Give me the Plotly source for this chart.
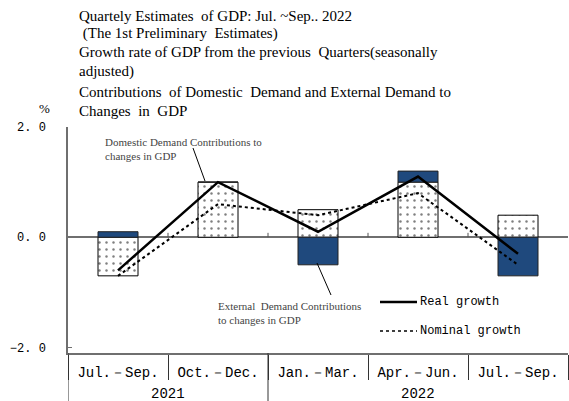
import plotly.graph_objects as go

# ---- data ----
years = ["2021", "2021", "2022", "2022", "2022"]
quarters = ["Jul.－Sep.", "Oct.－Dec.", "Jan.－Mar.", "Apr.－Jun.", "Jul.－Sep."]
domestic = [-0.7, 1.0, 0.5, 1.0, 0.4]
external = [0.1, 0.0, -0.5, 0.2, -0.7]
real_growth = [-0.6, 1.0, 0.1, 1.1, -0.3]
nominal_growth = [-0.7, 0.6, 0.4, 0.8, -0.5]
year_labels = ["2021", "2022"]
y_tickvals = [-2, 0, 2]
y_ticktext = ["−2. 0", "0. 0", "2. 0"]
title_lines = [
    "Quartely Estimates  of GDP: Jul. ~Sep.. 2022",
    " (The 1st Preliminary  Estimates)",
    "Growth rate of GDP from the previous  Quarters(seasonally",
    "adjusted)",
    "Contributions  of Domestic  Demand and External Demand to",
    "Changes  in  GDP",
]

# ---- layout geometry (pixels) ----
W, H = 569, 401
L, R, T, B = 68, 1, 127, 48
YMIN, YMAX = -2.1, 2.0


def px_x(px):
    return (px - L) / (W - L - R)


def px_y(py):
    return (H - B - py) / (H - T - B)


keys = [f"{y} {q}" for y, q in zip(years, quarters)]
n = len(keys)
# year group centres / boundaries in category-index units
year_pos = []
year_bounds = [-0.5]
for yl in year_labels:
    idx = [i for i, y in enumerate(years) if y == yl]
    year_pos.append((idx[0] + idx[-1]) / 2)
    year_bounds.append(idx[-1] + 0.5)
year_bounds = year_bounds[:-1]

fig = go.Figure()
fig.add_trace(go.Bar(
    x=keys, y=domestic, width=0.4, name="Domestic",
    marker=dict(color="white", line=dict(color="black", width=1),
                pattern=dict(shape=".", fgcolor="black", bgcolor="white",
                             size=7, solidity=0.1)),
    showlegend=False))
fig.add_trace(go.Bar(
    x=keys, y=external, width=0.4, name="External",
    marker=dict(color="#1F497D", line=dict(color="#222", width=1)),
    showlegend=False))
fig.add_trace(go.Scatter(
    x=keys, y=real_growth, mode="lines", name="Real growth",
    line=dict(color="black", width=2.5), showlegend=False))
fig.add_trace(go.Scatter(
    x=keys, y=nominal_growth, mode="lines", name="Nominal growth",
    line=dict(color="black", width=2, dash="dot"), showlegend=False))

tickfont = dict(family="Liberation Mono", size=14, color="black")
annotations = []
title_y = [16, 34, 53, 71, 92, 111]
for txt, yy in zip(title_lines, title_y):
    annotations.append(dict(text=txt, x=px_x(77), y=px_y(yy), xref="paper", yref="paper",
                            xanchor="left", yanchor="middle", showarrow=False,
                            font=dict(family="Liberation Serif", size=15, color="black")))
annotations.append(dict(text="%", x=px_x(44), y=px_y(108), xref="paper", yref="paper",
                        xanchor="center", yanchor="middle", showarrow=False,
                        font=dict(family="Liberation Serif", size=13, color="black")))
annotations.append(dict(text="Domestic Demand Contributions to<br>changes in GDP",
                        x=px_x(103), y=px_y(134), xref="paper", yref="paper",
                        xanchor="left", yanchor="top", align="left", showarrow=False,
                        font=dict(family="Liberation Serif", size=11, color="#444")))
annotations.append(dict(text="External  Demand Contributions<br>to changes in GDP",
                        x=px_x(216), y=px_y(298), xref="paper", yref="paper",
                        xanchor="left", yanchor="top", align="left", showarrow=False,
                        font=dict(family="Liberation Serif", size=11, color="#444")))
annotations.append(dict(text="Real growth", x=px_x(418), y=px_y(302), xref="paper", yref="paper",
                        xanchor="left", yanchor="middle", showarrow=False,
                        font=dict(family="Liberation Mono", size=12, color="black")))
annotations.append(dict(text="Nominal growth", x=px_x(418), y=px_y(331), xref="paper", yref="paper",
                        xanchor="left", yanchor="middle", showarrow=False,
                        font=dict(family="Liberation Mono", size=12, color="black")))
for yl, xp in zip(year_labels, year_pos):
    annotations.append(dict(text=yl, x=xp, y=px_y(394), xref="x", yref="paper",
                            xanchor="center", yanchor="middle", showarrow=False,
                            font=tickfont))

shapes = [
    dict(type="line", xref="paper", yref="paper", x0=px_x(193), y0=px_y(148),
         x1=px_x(205), y1=px_y(181), line=dict(color="black", width=1)),
    dict(type="line", xref="paper", yref="paper", x0=px_x(317), y0=px_y(263),
         x1=px_x(331), y1=px_y(295), line=dict(color="black", width=1)),
    dict(type="line", xref="paper", yref="paper", x0=px_x(380), y0=px_y(302),
         x1=px_x(417), y1=px_y(302), line=dict(color="black", width=2.5)),
    dict(type="line", xref="paper", yref="paper", x0=px_x(380), y0=px_y(331),
         x1=px_x(417), y1=px_y(331), line=dict(color="black", width=1.5, dash="dot")),
]
# year dividers running down through both label rows
for xb in year_bounds:
    shapes.append(dict(type="line", xref="x", yref="paper", x0=xb, x1=xb,
                       y0=0, y1=px_y(401), line=dict(color="#333", width=1)))
# small tick marks on the zero line at the quarter boundaries
for i in range(n - 1):
    shapes.append(dict(type="line", xref="x", yref="y", x0=i + 0.5, x1=i + 0.5,
                       y0=0, y1=0.08, line=dict(color="#555", width=1)))

fig.update_layout(
    width=W, height=H, margin=dict(l=L, r=R, t=T, b=B),
    paper_bgcolor="white", plot_bgcolor="white",
    barmode="relative",
    annotations=annotations, shapes=shapes,
    xaxis=dict(type="category", range=[-0.5, n - 0.5], tickvals=keys, ticktext=quarters,
               showline=True, linecolor="#6f6f6f", linewidth=1.5,
               ticks="outside", tickson="boundaries", ticklen=25, tickcolor="#333",
               tickwidth=1, ticklabelstandoff=5, tickfont=tickfont,
               showgrid=False, zeroline=False),
    yaxis=dict(range=[YMIN, YMAX], tickvals=y_tickvals, ticktext=y_ticktext,
               ticks="inside", ticklen=4, tickcolor="#6f6f6f", showline=True,
               linecolor="#6f6f6f", linewidth=1.5, showgrid=False,
               zeroline=True, zerolinecolor="#6f6f6f", zerolinewidth=1.5,
               ticklabelstandoff=18,
               tickfont=dict(family="Liberation Mono", size=12, color="black")),
)

fig.write_html("out.html", config={"displayModeBar": False},
               post_script="document.body.style.margin='0';")
